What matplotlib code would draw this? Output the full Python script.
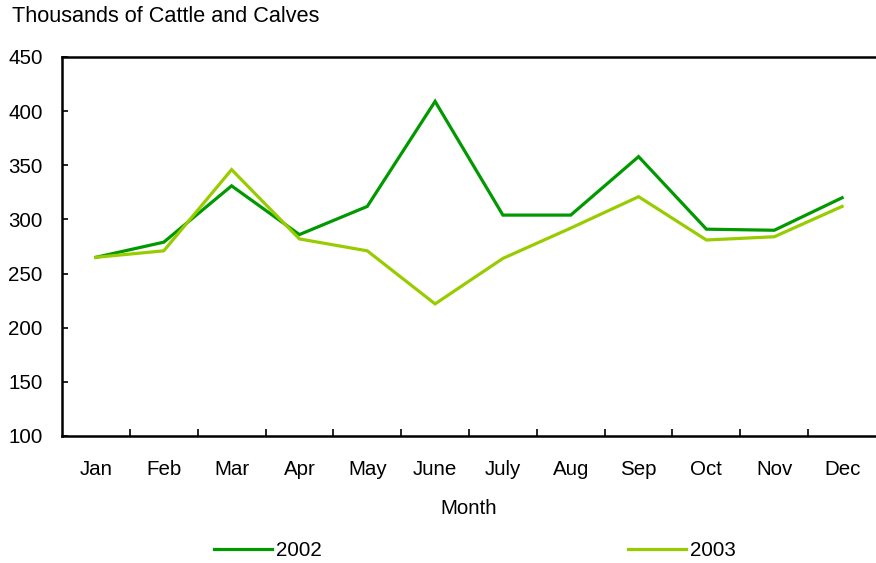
import matplotlib
matplotlib.use("Agg")
import matplotlib.pyplot as plt
import numpy as np

plt.rcParams['font.family'] = ['Liberation Sans', 'DejaVu Sans']

months = ["Jan", "Feb", "Mar", "Apr", "May", "June", "July", "Aug", "Sep", "Oct", "Nov", "Dec"]
y2002 = [265, 279, 331, 286, 312, 409, 304, 304, 358, 291, 290, 320]
y2003 = [265, 271, 346, 282, 271, 222, 264, 292, 321, 281, 284, 312]
yticks = [100, 150, 200, 250, 300, 350, 400, 450]

FS = 14.8

fig = plt.figure(figsize=(8.76, 5.63), dpi=100)
ax = fig.add_axes([62/876, 1 - 436/563, 1 - 62/876, (436 - 57)/563])

x = np.arange(len(months))
ax.plot(x, y2002, color="#009900", lw=2.3, label="2002", solid_joinstyle="miter")
ax.plot(x, y2003, color="#99CC00", lw=2.3, label="2003", solid_joinstyle="miter")

ax.set_xlim(-0.5, len(months) - 0.5)
ax.set_ylim(100, 450)
ax.set_yticks(yticks)
ax.set_xticks(np.arange(len(months) - 1) + 0.5)
ax.set_xticklabels([])
ax.set_xticks(x, minor=True)
ax.set_xticklabels(months, minor=True, fontsize=FS)
ax.tick_params(axis='x', which='minor', length=0, pad=17)
ax.tick_params(axis='x', which='major', direction='in', length=5, width=1.2)
ax.tick_params(axis='y', direction='in', length=4, width=1.2, labelsize=FS, pad=14)

for s in ['left', 'bottom', 'top']:
    ax.spines[s].set_linewidth(1.8)
ax.spines['right'].set_visible(False)

ax.set_xlabel("Month", fontsize=FS, labelpad=15)
fig.text(12/876, 1 - 17/563, "Thousands of Cattle and Calves", fontsize=15.6, va='center', ha='left')

fig.legend(loc='center', bbox_to_anchor=(475/876, 1 - 551/563), ncol=2, frameon=False,
           fontsize=FS, handlelength=2.8, columnspacing=14.9, handletextpad=0.2)

fig.savefig("out.png", dpi=100)
